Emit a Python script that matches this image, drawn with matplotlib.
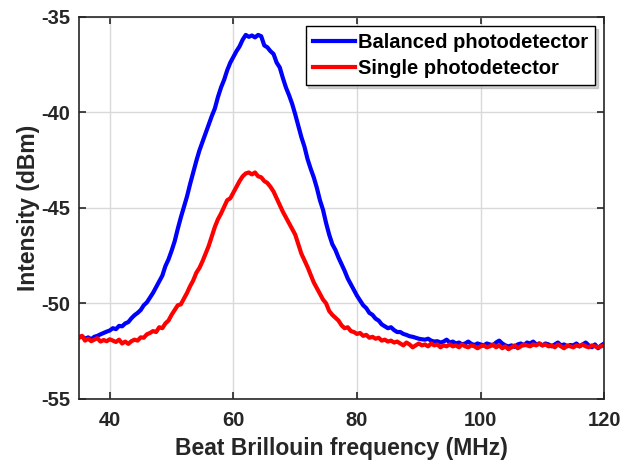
import numpy as np
import matplotlib
matplotlib.use('Agg')
import matplotlib.pyplot as plt

# beat frequency axis (MHz), 0.5 MHz steps from 35 to 120
freq = np.arange(35, 120.5, 0.5)

balanced = [
    -51.80, -51.72, -51.85, -51.78, -51.88, -51.75, -51.70, -51.62, -51.55, -51.48,
    -51.42, -51.30, -51.35, -51.18, -51.20, -51.05, -50.98, -50.78, -50.62, -50.50,
    -50.35, -50.10, -49.95, -49.70, -49.45, -49.15, -48.85, -48.55, -48.05, -47.70,
    -47.25, -46.75, -46.10, -45.50, -44.95, -44.40, -43.75, -43.15, -42.55, -42.00,
    -41.55, -41.10, -40.65, -40.20, -39.80, -39.20, -38.70, -38.30, -37.80, -37.40,
    -37.10, -36.80, -36.55, -36.20, -35.95, -36.05, -35.98, -36.08, -35.95, -36.02,
    -36.50, -36.60, -36.80, -36.95, -37.40, -37.65, -38.20, -38.70, -39.10, -39.55,
    -40.10, -40.70, -41.30, -41.80, -42.45, -42.95, -43.40, -43.95, -44.60, -45.10,
    -45.80, -46.40, -46.90, -47.20, -47.60, -47.95, -48.30, -48.70, -49.00, -49.30,
    -49.60, -49.85, -50.10, -50.25, -50.50, -50.60, -50.80, -50.90, -51.10, -51.20,
    -51.30, -51.25, -51.40, -51.50, -51.50, -51.60, -51.65, -51.72, -51.75, -51.80,
    -51.85, -51.88, -51.90, -51.85, -51.95, -52.00, -51.98, -52.05, -52.00, -51.90,
    -52.05, -52.00, -52.10, -52.05, -52.15, -52.10, -52.00, -52.12, -52.18, -52.10,
    -52.15, -52.20, -52.10, -52.15, -52.20, -52.05, -51.95, -52.10, -52.20, -52.25,
    -52.20, -52.28, -52.15, -52.10, -52.20, -52.05, -52.10, -52.00, -52.15, -52.10,
    -52.20, -52.10, -52.15, -52.25, -52.15, -52.05, -52.20, -52.15, -52.25, -52.18,
    -52.20, -52.10, -52.25, -52.15, -52.05, -52.20, -52.30, -52.15, -52.35, -52.20,
    -52.10,
]

single = [
    -51.80, -51.70, -51.95, -51.85, -51.98, -51.90, -51.82, -52.00, -51.92, -51.98,
    -51.88, -51.95, -52.02, -51.90, -52.10, -52.00, -52.12, -51.98, -51.90, -51.95,
    -51.78, -51.80, -51.62, -51.55, -51.45, -51.50, -51.25, -51.30, -51.05, -50.90,
    -50.60, -50.35, -50.10, -50.05, -49.75, -49.45, -49.10, -48.80, -48.40, -48.15,
    -47.80, -47.40, -47.00, -46.50, -46.00, -45.60, -45.30, -44.95, -44.60, -44.50,
    -44.20, -43.90, -43.60, -43.35, -43.20, -43.15, -43.25, -43.15, -43.35, -43.40,
    -43.60, -43.70, -43.90, -44.15, -44.50, -44.85, -45.20, -45.50, -45.80, -46.10,
    -46.40, -46.90, -47.40, -47.75, -48.10, -48.50, -48.90, -49.20, -49.50, -49.80,
    -50.00, -50.40, -50.60, -50.75, -50.90, -51.15, -51.30, -51.25, -51.45, -51.50,
    -51.60, -51.55, -51.70, -51.65, -51.80, -51.75, -51.85, -51.80, -51.95, -51.90,
    -52.00, -51.95, -52.05, -52.00, -52.10, -52.20, -52.05, -52.15, -52.30, -52.20,
    -52.10, -52.20, -52.15, -52.25, -52.10, -52.20, -52.15, -52.30, -52.20, -52.25,
    -52.15, -52.25, -52.20, -52.30, -52.15, -52.25, -52.30, -52.20, -52.25, -52.35,
    -52.25, -52.20, -52.30, -52.25, -52.15, -52.30, -52.20, -52.35, -52.25, -52.40,
    -52.30, -52.20, -52.35, -52.25, -52.15, -52.20, -52.25, -52.15, -52.20, -52.10,
    -52.20, -52.15, -52.25, -52.20, -52.30, -52.15, -52.25, -52.35, -52.20, -52.25,
    -52.30, -52.20, -52.25, -52.15, -52.25, -52.30, -52.20, -52.25, -52.30, -52.25,
    -52.20,
]

xticks = [40, 60, 80, 100, 120]
yticks = [-55, -50, -45, -40, -35]

plt.rcParams['font.family'] = 'Liberation Sans'
plt.rcParams['font.weight'] = 'bold'
plt.rcParams['axes.unicode_minus'] = False

fig = plt.figure(figsize=(6.21, 4.66), dpi=100)
ax = fig.add_axes([0.127, 0.144, 0.846, 0.820])

ax.plot(freq, balanced, color='#0000ff', lw=3, label='Balanced photodetector')
ax.plot(freq, single, color='#ff0000', lw=3, label='Single photodetector')

ax.set_xlim(35, 120)
ax.set_ylim(-55, -35)
ax.set_xticks(xticks)
ax.set_yticks(yticks)
ax.grid(True, color='#d9d9d9', lw=1)
ax.set_axisbelow(True)
ax.tick_params(direction='in', top=True, right=True, length=5, width=1.2,
               labelsize=14.5, colors='#262626')
ax.tick_params(axis='x', pad=9)
ax.tick_params(axis='y', pad=6)
for sp in ax.spines.values():
    sp.set_color('#262626')
    sp.set_linewidth(1.2)

ax.set_xlabel('Beat Brillouin frequency (MHz)', fontsize=16.5, fontweight='bold',
              color='#262626', labelpad=5)
ax.set_ylabel('Intensity (dBm)', fontsize=16.5, fontweight='bold', color='#262626',
              labelpad=1)

leg = ax.legend(loc='upper right', fontsize=14.5, frameon=True, fancybox=False,
                shadow={'color': '#a6a6a6'}, handlelength=2.1, handletextpad=0.15,
                borderpad=0.35, labelspacing=0.35, borderaxespad=0.45)
leg.get_frame().set_edgecolor('#000000')
leg.get_frame().set_linewidth(1.0)
leg.get_frame().set_alpha(1)

fig.savefig('out.png', dpi=100)
